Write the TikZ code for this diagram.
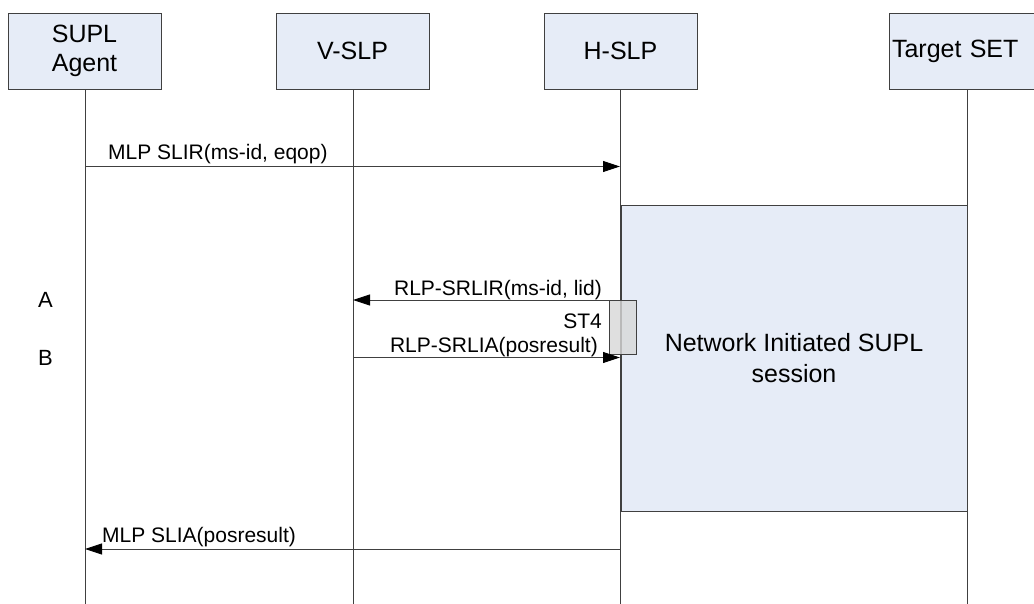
\documentclass[tikz,border=0pt]{standalone}
\usepackage{fontspec}
\setmainfont{Liberation Sans}
\usetikzlibrary{arrows.meta}
\definecolor{boxblue}{HTML}{E6ECF7}
\definecolor{linegray}{HTML}{404040}
\definecolor{stgray}{HTML}{D8D8D8}
\begin{document}
\begin{tikzpicture}[x=1pt,y=-1pt,
  actor/.style={draw=linegray,fill=boxblue,line width=0.9pt,minimum width=153pt,minimum height=76pt,inner sep=0pt,align=center,font=\fontsize{25}{29}\selectfont},
  life/.style={draw=linegray,line width=0.9pt},
  msg/.style={draw=linegray,line width=0.9pt,-{Triangle[length=17pt,width=11pt,color=black,fill=black]}},
  lbl/.style={inner sep=0pt,font=\fontsize{21}{25}\selectfont},
  side/.style={inner sep=0pt,font=\fontsize{22}{26}\selectfont}]
\clip (0,0) rectangle (1034,604);
\fill[white] (0,0) rectangle (1034,604);
% actors
\node[actor] (sa) at (84.5,51) {SUPL\\Agent};
\node[actor] (vs) at (352.5,51) {V-SLP};
\node[actor] (hs) at (620.5,51) {H-SLP};
\node[actor,text width=153pt,align=left] (ts) at (965.5,51) {\hspace*{3pt}Target SET};
% lifeline ends
\coordinate (saE) at (85,604);
\coordinate (vsE) at (353,604);
\coordinate (hsE) at (620,604);
\coordinate (tsE) at (967,604);
\draw[life] (sa.south -| saE) -- (saE);
\draw[life] (vs.south -| vsE) -- (vsE);
\draw[life] (hs.south -| hsE) -- (hsE);
\draw[life] (ts.south -| tsE) -- (tsE);
% session box
\node[draw=linegray,fill=boxblue,line width=0.9pt,minimum width=346pt,minimum height=306pt,inner sep=0pt,align=center,font=\fontsize{25}{31}\selectfont] (ni) at (794,358) {Network Initiated SUPL\\session};
% ST4 box
\node[draw=linegray,fill=stgray,fill opacity=0.8,draw opacity=1,line width=0.9pt,minimum width=27pt,minimum height=54pt,inner sep=0pt] (st) at (622.5,327) {};
% message coordinates
\coordinate (m1a) at (85,166.5);
\coordinate (m1b) at (620,166.5);
\coordinate (m2a) at (620,300);
\coordinate (m2b) at (353,300);
\coordinate (m3a) at (353,357.5);
\coordinate (m3b) at (620,357.5);
\coordinate (m4a) at (620,549);
\coordinate (m4b) at (85,549);
\draw[msg] (m1a) -- (m1b);
\draw[msg] (m2a) -- (m2b);
\draw[msg] (m3a) -- (m3b);
\draw[msg] (m4a) -- (m4b);
% labels
\node[lbl,anchor=base west] (l1) at (108,160) {MLP SLIR(ms-id, eqop)};
\node[lbl,anchor=base east] (l2) at (602,295) {RLP-SRLIR(ms-id, lid)};
\node[lbl,anchor=base east] (l3) at (602,328) {ST4};
\node[lbl,anchor=base east] (l4) at (598,352) {RLP-SRLIA(posresult)};
\node[lbl,anchor=base west] (l5) at (102,542) {MLP SLIA(posresult)};
\node[side] (a) at (45.5,300) {A};
\node[side] (b) at (45.5,358) {B};
\end{tikzpicture}
\end{document}
